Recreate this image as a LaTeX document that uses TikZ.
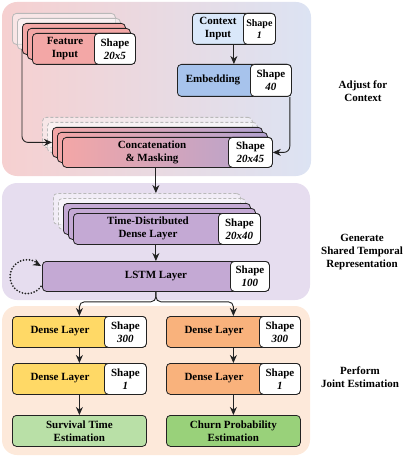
\documentclass[tikz,border=0pt]{standalone}
\usepackage{fontspec}
\setmainfont{Liberation Serif}
\usetikzlibrary{arrows.meta,calc}

\definecolor{pAl}{HTML}{F6D0D0}
\definecolor{pAr}{HTML}{DCE3F3}
\definecolor{pB}{HTML}{E6DDEF}
\definecolor{pC}{HTML}{FDE9DA}
\definecolor{cFeat}{HTML}{F3A7A6}
\definecolor{cCtx}{HTML}{DAE8FA}
\definecolor{cEmb}{HTML}{A7C3EC}
\definecolor{cCatL}{HTML}{F3A6A6}
\definecolor{cCatR}{HTML}{B3A3D0}
\definecolor{cPur}{HTML}{C4A9D4}
\definecolor{cYel}{HTML}{FFD966}
\definecolor{cOra}{HTML}{F9B27C}
\definecolor{cGrA}{HTML}{B9E0A7}
\definecolor{cGrB}{HTML}{99D17A}
\definecolor{edge}{HTML}{222222}

\begin{document}
\begin{tikzpicture}[x=1pt,y=-1pt,
  font=\fontsize{11}{13}\selectfont\bfseries,
  box/.style={draw=edge, line width=0.8pt, rounded corners=4pt, inner sep=0pt,
              anchor=north west, minimum height=31pt, align=center},
  shp/.style={box, fill=white, anchor=north east},
  ghost/.style={box, draw=gray!55, fill=white, fill opacity=0.45, draw opacity=1},
  ghostd/.style={ghost, dash pattern=on 3pt off 2pt},
  txt/.style={align=center, inner sep=0pt, text=black},
  arr/.style={draw=edge, line width=0.9pt, -{Stealth[length=8pt,width=7pt]}},
  loopst/.style={draw=edge, line width=1.9pt, dash pattern=on 0pt off 3pt, line cap=round},
  panel/.style={rounded corners=15pt},
]
\useasboundingbox (0,0) rectangle (415,457);

% panels
\shade[panel, left color=pAl, right color=pAr] (2,2) rectangle (311,176);
\fill[panel, pB] (2,183) rectangle (310,300);
\fill[panel, pC] (2,306) rectangle (310,455);

% feature input stack
\node[ghost, minimum width=103pt] (featL4) at (12,13) {};
\node[ghost, minimum width=103pt] (featL3) at (17,18) {};
\node[box, fill=cFeat, minimum width=103pt] (featL2) at (22,23) {};
\node[box, fill=cFeat, minimum width=103pt] (featL1) at (27,28) {};
\node[box, fill=cFeat, minimum width=103pt] (feat) at (32,33) {};
\node[shp, minimum width=41pt] (featS) at (feat.north east) {Shape\\\textit{20x5}};
\node[txt] (featT) at (65,48.5) {Feature\\Input};

% context input
\node[box, fill=cCtx, minimum width=83pt] (ctx) at (192,13) {};
\node[shp, minimum width=32pt, font=\fontsize{10}{12}\selectfont\bfseries] (ctxS) at (ctx.north east) {Shape\\\textit{1}};
\node[txt] (ctxT) at (218,28.5) {Context\\Input};

% embedding
\node[box, fill=cEmb, minimum width=114pt, minimum height=32pt] (emb) at (177,64) {};
\node[shp, minimum width=41pt, minimum height=32pt] (embS) at (emb.north east) {Shape\\\textit{40}};
\node[txt] (embT) at (213,80) {Embedding};

% concatenation stack
\node[ghostd, minimum width=210pt, minimum height=30pt] (catL4) at (42,117) {};
\node[ghostd, minimum width=210pt, minimum height=30pt] (catL3) at (47,122) {};
\node[box, left color=cCatL, right color=cCatR, minimum width=210pt, minimum height=30pt] (catL2) at (52,127) {};
\node[box, left color=cCatL, right color=cCatR, minimum width=210pt, minimum height=30pt] (catL1) at (57,132) {};
\node[box, left color=cCatL, right color=cCatR, minimum width=210pt, minimum height=30pt] (cat) at (62,137) {};
\node[shp, minimum width=44pt, minimum height=30pt] (catS) at (cat.north east) {Shape\\\textit{20x45}};
\node[txt] (catT) at (152,152) {Concatenation\\\& Masking};

% time-distributed stack
\node[ghostd, minimum width=187pt] (tdL4) at (53,193) {};
\node[ghostd, minimum width=187pt] (tdL3) at (58,198) {};
\node[box, fill=cPur, minimum width=187pt] (tdL2) at (63,203) {};
\node[box, fill=cPur, minimum width=187pt] (tdL1) at (68,208) {};
\node[box, fill=cPur, minimum width=187pt] (td) at (73,213) {};
\node[shp, minimum width=42pt] (tdS) at (td.north east) {Shape\\\textit{20x40}};
\node[txt] (tdT) at (148,228.5) {Time-Distributed\\Dense Layer};

% LSTM
\node[box, fill=cPur, minimum width=227pt, minimum height=30pt] (lstm) at (42,261) {};
\node[shp, minimum width=39pt, minimum height=30pt] (lstmS) at (lstm.north east) {Shape\\\textit{100}};
\node[txt] (lstmT) at (156,276) {LSTM Layer};

% left branch
\node[box, fill=cYel, minimum width=134pt] (dl1) at (12,316) {};
\node[shp, minimum width=42pt] (dl1S) at (dl1.north east) {Shape\\\textit{300}};
\node[txt] (dl1T) at (60,331.5) {Dense Layer};
\node[box, fill=cYel, minimum width=134pt] (dl2) at (12,363) {};
\node[shp, minimum width=42pt] (dl2S) at (dl2.north east) {Shape\\\textit{1}};
\node[txt] (dl2T) at (60,378.5) {Dense Layer};
\node[box, fill=cGrA, minimum width=134pt] (surv) at (12,415) {Survival Time\\Estimation};

% right branch
\node[box, fill=cOra, minimum width=134pt] (dr1) at (166,316) {};
\node[shp, minimum width=41pt] (dr1S) at (dr1.north east) {Shape\\\textit{300}};
\node[txt] (dr1T) at (214,331.5) {Dense Layer};
\node[box, fill=cOra, minimum width=134pt] (dr2) at (166,363) {};
\node[shp, minimum width=41pt] (dr2S) at (dr2.north east) {Shape\\\textit{1}};
\node[txt] (dr2T) at (214,378.5) {Dense Layer};
\node[box, fill=cGrB, minimum width=134pt] (churn) at (166,415) {Churn Probability\\Estimation};

% side labels
\node[txt] (lab1) at (363,91) {Adjust for\\Context};
\node[txt] (lab2) at (362,252) {Generate\\Shared Temporal\\Representation};
\node[txt] (lab3) at (360,377) {Perform\\Joint Estimation};

% connectors
\draw[arr] (ctx.south) -- (ctx.south |- emb.north);
\draw[arr, rounded corners=6pt] ($(featL2.south west)+(0,-6)$) |- (catL2.west);
\draw[arr, rounded corners=6pt] ($(emb.south east)+(-2,0)$) |- (cat.east);
\draw[arr] (lstm.north |- cat.south) -- (lstm.north |- tdL4.north);
\draw[arr] (lstm.north |- td.south) -- (lstm.north);
\draw[loopst] ($(lstm.west)+(-1,10)$) arc[start angle=-35, end angle=-318, radius=17pt] coordinate (loopend);
\draw[draw=edge, line width=0.9pt, -{Stealth[length=8pt,width=7pt]}] (loopend) -- ($(lstm.north west)+(-1,5)$);
\draw[arr, rounded corners=5pt] (lstm.south) -- ($(lstm.south)+(0,10)$) -| (dl1.north);
\draw[arr, rounded corners=5pt] (lstm.south) -- ($(lstm.south)+(0,10)$) -| (dr1.north);
\draw[arr] (dl1.south) -- (dl2.north);
\draw[arr] (dl2.south) -- (surv.north);
\draw[arr] (dr1.south) -- (dr2.north);
\draw[arr] (dr2.south) -- (churn.north);
\end{tikzpicture}
\end{document}
